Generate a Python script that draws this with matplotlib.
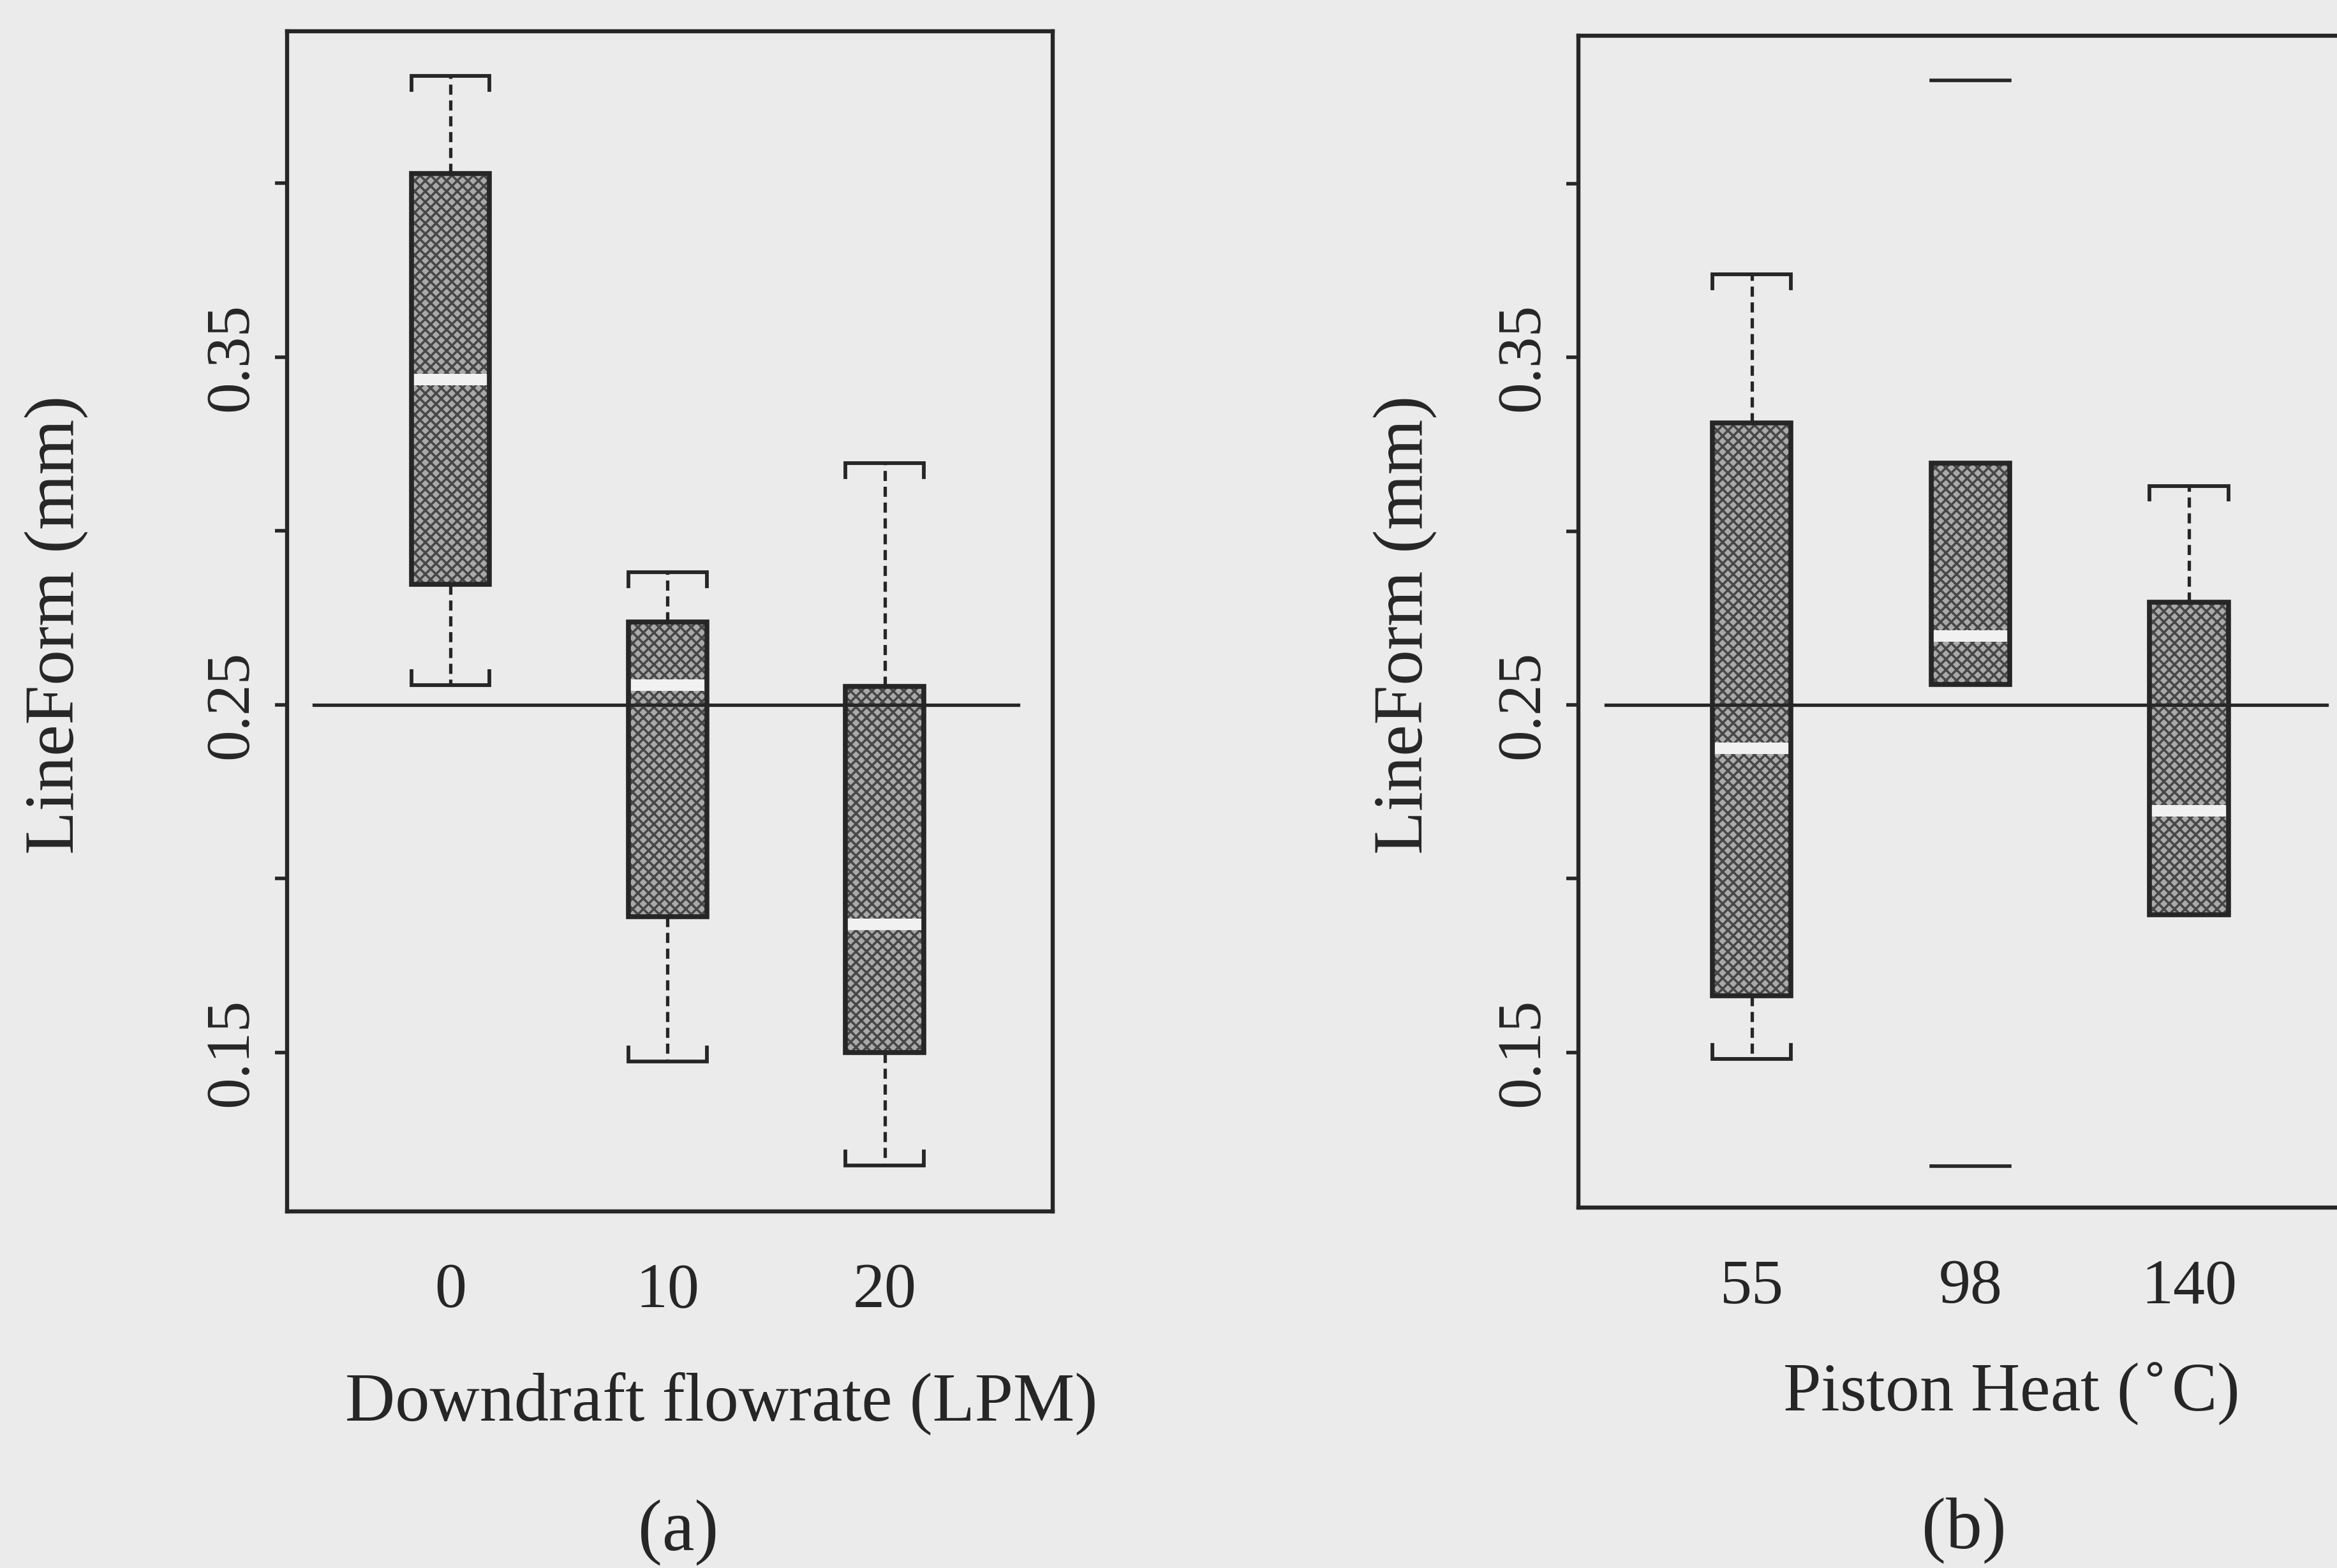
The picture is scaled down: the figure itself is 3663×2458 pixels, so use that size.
import matplotlib
matplotlib.use('Agg')
import matplotlib.pyplot as plt
from matplotlib.patches import PathPatch

plt.rcParams['font.family'] = ['Liberation Serif', 'DejaVu Serif']
plt.rcParams['hatch.linewidth'] = 2.6

# ---------------- data ----------------
# Panel (a): Downdraft flowrate (LPM)
flow_labels = ['0', '10', '20']
flow_whislo = [0.2557, 0.1474, 0.1175]
flow_q1 = [0.2847, 0.1890, 0.1500]
flow_med = [0.3435, 0.2556, 0.1868]
flow_q3 = [0.4028, 0.2738, 0.2552]
flow_whishi = [0.4309, 0.2881, 0.3195]
flow_fliers = [[], [], []]

# Panel (b): Piston Heat (deg C)
heat_labels = ['55', '98', '140']
heat_whislo = [0.1482, 0.2558, 0.1896]
heat_q1 = [0.1664, 0.2558, 0.1896]
heat_med = [0.2376, 0.2699, 0.2196]
heat_q3 = [0.3311, 0.3195, 0.2796]
heat_whishi = [0.3739, 0.3195, 0.3130]
heat_fliers = [[], [0.4296, 0.1173], []]

target_value = 0.25
ytick_values = [0.15, 0.20, 0.25, 0.30, 0.35, 0.40]
ytick_labels = ['0.15', '', '0.25', '', '0.35', '']

# ---------------- style ----------------
BG = '#ebebeb'
INK = '#262626'
FILL = '#a9a9a9'
HATCHC = '#474747'
MEDC = '#f1f1f1'
BOX_W = 0.36
CAP_H = 0.004

W, H = 3663, 2458
fig = plt.figure(figsize=(W / 100, H / 100), dpi=100, facecolor=BG)


def draw_panel(ax, labels, lo, q1, med, q3, hi, fliers, xlim, ylim):
    pos = list(range(len(labels)))
    stats = [dict(med=m, q1=a, q3=b, whislo=l, whishi=h, fliers=[])
             for l, a, m, b, h in zip(lo, q1, med, q3, hi)]
    res = ax.bxp(stats, positions=pos, widths=BOX_W, showcaps=False,
                 showfliers=False, patch_artist=True,
                 boxprops=dict(facecolor=FILL, edgecolor=HATCHC, hatch='xx',
                               linewidth=0),
                 medianprops=dict(color=MEDC, linewidth=13,
                                  solid_capstyle='butt', zorder=3),
                 whiskerprops=dict(color=INK, linewidth=3.8,
                                   linestyle=(0, (3.0, 1.7))))
    for b in res['boxes']:
        b.set_zorder(2)
        ax.add_patch(PathPatch(b.get_path(), fill=False, edgecolor=INK,
                               linewidth=5.5, zorder=4,
                               transform=b.get_transform()))
    for w in res['whiskers']:
        w.set_zorder(1)
    # bracket-shaped caps
    for x, l, a, b, h in zip(pos, lo, q1, q3, hi):
        xs = [x - BOX_W / 2, x - BOX_W / 2, x + BOX_W / 2, x + BOX_W / 2]
        if h > b:
            ax.plot(xs, [h - CAP_H, h, h, h - CAP_H], color=INK, lw=4.2,
                    solid_joinstyle='miter', zorder=4)
        if l < a:
            ax.plot(xs, [l + CAP_H, l, l, l + CAP_H], color=INK, lw=4.2,
                    solid_joinstyle='miter', zorder=4)
    # outliers drawn as short horizontal bars
    for x, fl in zip(pos, fliers):
        for f in fl:
            ax.plot([x - BOX_W / 2, x + BOX_W / 2], [f, f], color=INK,
                    lw=4.0, zorder=4)
    # target line
    ax.axhline(target_value, xmin=0.035, xmax=0.955, color=INK, lw=3.8,
               zorder=5)

    ax.set_xlim(*xlim)
    ax.set_ylim(*ylim)
    ax.set_facecolor(BG)
    ax.set_xticks(pos)
    ax.set_xticklabels(labels)
    ax.set_yticks(ytick_values)
    ax.set_yticklabels(ytick_labels, rotation=90, va='center')
    ax.tick_params(axis='x', length=0, pad=58, labelsize=72, colors=INK)
    ax.tick_params(axis='y', length=14, width=4, pad=16, labelsize=70,
                   colors=INK)
    for s in ax.spines.values():
        s.set_linewidth(4.6)
        s.set_color(INK)


ax1 = fig.add_axes([450 / W, 1 - 1899 / H, 1200 / W, (1899 - 49) / H])
draw_panel(ax1, flow_labels, flow_whislo, flow_q1, flow_med, flow_q3,
           flow_whishi, flow_fliers, (-0.753, 2.774), (0.1043, 0.4437))

ax2 = fig.add_axes([2474 / W, 1 - 1893 / H, 1228 / W, (1893 - 56) / H])
draw_panel(ax2, heat_labels, heat_whislo, heat_q1, heat_med, heat_q3,
           heat_whishi, heat_fliers, (-0.792, 2.79), (0.1054, 0.4425))

# labels
fig.text(89 / W, 1 - 979 / H, 'LineForm (mm)', rotation=90, ha='center',
         va='center', fontsize=80, color=INK)
fig.text(2203 / W, 1 - 979 / H, 'LineForm (mm)', rotation=90, ha='center',
         va='center', fontsize=80, color=INK)
fig.text(1131 / W, 1 - 2227 / H, 'Downdraft flowrate (LPM)', ha='center',
         va='baseline', fontsize=78, color=INK)
fig.text(3151 / W, 1 - 2211 / H, 'Piston Heat ($^{\\circ}$C)', ha='center',
         va='baseline', fontsize=77, color=INK)
fig.text(1063 / W, 1 - 2430 / H, '(a)', ha='center', va='baseline',
         fontsize=82, color=INK)
fig.text(3078 / W, 1 - 2427 / H, '(b)', ha='center', va='baseline',
         fontsize=82, color=INK)

fig.savefig('out.png', dpi=100, facecolor=BG)
